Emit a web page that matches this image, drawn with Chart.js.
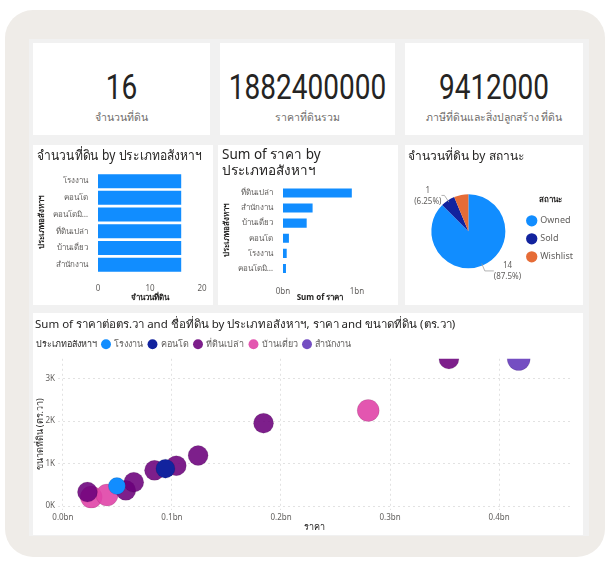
<!DOCTYPE html>
<html>
<head>
<meta charset="utf-8">
<script src="https://cdn.jsdelivr.net/npm/chart.js@4.4.1/dist/chart.umd.min.js"></script>
<style>
  body { margin: 0; width: 612px; height: 563px; background: #fff; position: relative; overflow: hidden;
         font-family: 'Noto Sans', 'DejaVu Sans', sans-serif; }
  .frame { position: absolute; left: 5px; top: 10px; width: 600px; height: 547px; background: #efece8; border-radius: 28px; }
  .panel { position: absolute; left: 29px; top: 39px; width: 560px; height: 497px; background: #f1f1f1; }
  .card { position: absolute; background: #fff; }
  .kpi { text-align: center; }
  .kpi .num { position: absolute; left: -40px; right: -40px; top: 25px; font-family: Roboto, sans-serif;
              font-size: 35px; color: #252423; line-height: 40px; transform: scaleX(0.8); }
  .kpi .lbl { position: absolute; left: 0; right: 0; top: 66px; font-size: 10.5px; color: #6f6d6b; }
  canvas { position: absolute; left: 0; top: 0; }
</style>
</head>
<body>
<div class="frame"></div>
<div class="panel"></div>

<div class="card kpi" style="left:33px;top:43px;width:177px;height:92px">
  <div class="num" id="kpi1"></div><div class="lbl">จำนวนที่ดิน</div>
</div>
<div class="card kpi" style="left:220px;top:43px;width:175px;height:92px">
  <div class="num" id="kpi2"></div><div class="lbl">ราคาที่ดินรวม</div>
</div>
<div class="card kpi" style="left:405px;top:43px;width:178px;height:92px">
  <div class="num" id="kpi3"></div><div class="lbl">ภาษีที่ดินและสิ่งปลูกสร้าง ที่ดิน</div>
</div>

<div class="card" style="left:33px;top:145px;width:180px;height:160px"><canvas id="bar1" width="180" height="160"></canvas></div>
<div class="card" style="left:218px;top:145px;width:180px;height:160px"><canvas id="bar2" width="180" height="160"></canvas></div>
<div class="card" style="left:405px;top:145px;width:178px;height:160px"><canvas id="pie" width="178" height="160"></canvas></div>
<div class="card" style="left:33px;top:313px;width:550px;height:222px"><canvas id="scatter" width="550" height="222"></canvas></div>

<script>
// ---- data ----
var landCount = 16
var totalPrice = 1882400000
var totalTax = 9412000

var typeLabels = ['โรงงาน', 'คอนโด', 'คอนโดมิเนียม', 'ที่ดินเปล่า', 'บ้านเดี่ยว', 'สำนักงาน']
var countByType = [16, 16, 16, 16, 16, 16]

var priceTypeLabels = ['ที่ดินเปล่า', 'สำนักงาน', 'บ้านเดี่ยว', 'คอนโด', 'โรงงาน', 'คอนโดมิเนียม']
var priceByType = [0.93e9, 0.40e9, 0.32e9, 0.08e9, 0.05e9, 0.04e9]

var statusLabels = ['Owned', 'Sold', 'Wishlist']
var statusCount = [14, 1, 1]

// scatter: ราคา (บาท) / ขนาดที่ดิน (ตร.วา) per type
var factoryPrice = [0.0495e9]
var factorySize = [470]
var condoPrice = [0.094e9]
var condoSize = [880]
var vacantPrice = [0.0225e9, 0.0577e9, 0.065e9, 0.084e9, 0.104e9, 0.124e9, 0.184e9, 0.354e9]
var vacantSize = [330, 370, 560, 840, 950, 1190, 1950, 3460]
var housePrice = [0.026e9, 0.0405e9, 0.28e9]
var houseSize = [210, 260, 2250]
var officePrice = [0.418e9]
var officeSize = [3460]

var priceTicks = [0, 1e8, 2e8, 3e8, 4e8]
var sizeTicks = [0, 1000, 2000, 3000]

var blue = '#118DFF', navy = '#12239E', orange = '#E66C37', purple = '#6B007B', pink = '#E044A7', violet = '#744EC2'

document.getElementById('kpi1').textContent = landCount
document.getElementById('kpi2').textContent = totalPrice
document.getElementById('kpi3').textContent = totalTax

Chart.defaults.font.family = "'Noto Sans', 'DejaVu Sans', sans-serif"
Chart.defaults.color = '#605E5C'
Chart.defaults.animation = false
Chart.defaults.responsive = false
Chart.defaults.plugins.tooltip.enabled = false

function shortLabel(s) {
  return s.length > 11 ? s.slice(0, 7) + '…' : s
}
function pts(xs, ys) {
  return xs.map(function (x, i) { return { x: x, y: ys[i] } })
}
function fixedTicks(values) {
  return function (s) { s.ticks = values.map(function (v) { return { value: v } }) }
}
var axisTitle = { size: 8, weight: 'bold' }

/*------ bar 1 : จำนวนที่ดิน ------*/
new Chart(document.getElementById('bar1'), {
  type: 'bar',
  data: {
    labels: typeLabels,
    datasets: [{ data: countByType, backgroundColor: blue, barPercentage: 0.84, categoryPercentage: 1 }]
  },
  options: {
    indexAxis: 'y',
    layout: { padding: { left: 4, right: 11, top: 3, bottom: 2 } },
    plugins: {
      legend: { display: false },
      title: { display: true, text: 'จำนวนที่ดิน by ประเภทอสังหาฯ', align: 'start', color: '#252423',
               font: { size: 14, weight: 'normal' }, padding: { top: 0, bottom: 8 } }
    },
    scales: {
      x: { min: 0, max: 20, ticks: { stepSize: 10, font: { size: 8 } }, grid: { display: false }, border: { display: false },
           title: { display: true, text: 'จำนวนที่ดิน', font: axisTitle, color: '#252423', padding: 0 },
           afterFit: function (s) { s.height = 30 } },
      y: { ticks: { font: { size: 8 }, padding: 2, callback: function (v) { return shortLabel(this.getLabelForValue(v)) } },
           grid: { display: false }, border: { display: false },
           title: { display: true, text: 'ประเภทอสังหาฯ', font: axisTitle, color: '#252423', padding: 0 },
           afterFit: function (s) { s.width = 61 } }
    }
  }
})

/*------ bar 2 : Sum of ราคา ------*/
new Chart(document.getElementById('bar2'), {
  type: 'bar',
  data: {
    labels: priceTypeLabels,
    datasets: [{ data: priceByType, backgroundColor: blue, barPercentage: 0.6, categoryPercentage: 1 }]
  },
  options: {
    indexAxis: 'y',
    layout: { padding: { left: 4, right: 41, top: 2, bottom: 2 } },
    plugins: {
      legend: { display: false },
      title: { display: true, text: ['Sum of ราคา by', 'ประเภทอสังหาฯ'], align: 'start', color: '#252423',
               font: { size: 13.5, weight: 'normal' }, padding: { top: 0, bottom: 6 } }
    },
    scales: {
      x: { min: 0, max: 1e9, ticks: { stepSize: 1e9, font: { size: 8 }, callback: function (v) { return v / 1e9 + 'bn' } },
           grid: { display: false }, border: { display: false },
           title: { display: true, text: 'Sum of ราคา', font: axisTitle, color: '#252423', padding: 0 },
           afterFit: function (s) { s.height = 27 } },
      y: { ticks: { font: { size: 8 }, padding: 2, callback: function (v) { return shortLabel(this.getLabelForValue(v)) } },
           grid: { display: false }, border: { display: false },
           title: { display: true, text: 'ประเภทอสังหาฯ', font: axisTitle, color: '#252423', padding: 0 },
           afterFit: function (s) { s.width = 61 } }
    }
  }
})

/*------ pie : สถานะ ------*/
var pieLabels = {
  id: 'pieLabels',
  afterLayout: function (chart) {
    // pie sits a little right of centre, legend a little lower, as in Power BI
    chart.chartArea.left += 10
    chart.legend.top += 11
    chart.legend.bottom += 11
  },
  afterDatasetsDraw: function (chart) {
    var ctx = chart.ctx
    var meta = chart.getDatasetMeta(0)
    var vals = chart.data.datasets[0].data
    var total = vals.reduce(function (a, b) { return a + b }, 0)
    ;[0, 1].forEach(function (i) {
      var p = meta.data[i].getProps(['x', 'y', 'startAngle', 'endAngle', 'outerRadius'])
      var a = (p.startAngle + p.endAngle) / 2
      var c = Math.cos(a), s = Math.sin(a)
      var x1 = p.x + c * (p.outerRadius - 2), y1 = p.y + s * (p.outerRadius - 2)
      var x2 = p.x + c * (p.outerRadius + 6), y2 = p.y + s * (p.outerRadius + 6)
      var dir = c >= 0 ? 1 : -1
      var x3 = x2 + dir * (dir > 0 ? 9 : 3)
      ctx.save()
      ctx.strokeStyle = '#a0a0a0'
      ctx.lineWidth = 0.8
      ctx.beginPath(); ctx.moveTo(x1, y1); ctx.lineTo(x2, y2); ctx.lineTo(x3, y2); ctx.stroke()
      ctx.font = "8px 'Noto Sans', 'DejaVu Sans', sans-serif"
      ctx.fillStyle = '#605E5C'
      ctx.textBaseline = 'middle'
      ctx.textAlign = 'center'
      var l1 = String(vals[i]), l2 = '(' + parseFloat((vals[i] / total * 100).toFixed(2)) + '%)'
      var w = Math.max(ctx.measureText(l1).width, ctx.measureText(l2).width)
      var cx = x3 + dir * (w / 2)
      ctx.fillText(l1, cx, y2 - 5)
      ctx.fillText(l2, cx, y2 + 6)
      ctx.restore()
    })
  }
}
new Chart(document.getElementById('pie'), {
  type: 'pie',
  data: {
    labels: statusLabels,
    datasets: [{ data: statusCount, backgroundColor: [blue, navy, orange], borderWidth: 0, radius: 37 }]
  },
  options: {
    layout: { padding: { left: 3, right: 0, top: 4, bottom: 10 } },
    plugins: {
      title: { display: true, text: 'จำนวนที่ดิน by สถานะ', align: 'start', color: '#252423',
               font: { size: 12, weight: 'normal' }, padding: { top: 0, bottom: 4 } },
      legend: {
        position: 'right',
        title: { display: true, text: 'สถานะ', color: '#252423', font: { size: 8, weight: 'bold' }, padding: { top: 0, bottom: 2 } },
        labels: { usePointStyle: true, pointStyle: 'circle', boxWidth: 8, boxHeight: 8, padding: 9,
                  color: '#605E5C', font: { size: 9 } }
      }
    }
  },
  plugins: [pieLabels]
})

/*------ scatter ------*/
// legend header "ประเภทอสังหาฯ" has no marker, so pull the legend row left by one marker width
var legendShift = {
  id: 'legendShift',
  afterLayout: function (chart) {
    chart.legend.left -= 17
    chart.legend.right -= 17
  }
}
new Chart(document.getElementById('scatter'), {
  type: 'bubble',
  data: {
    datasets: [
      { label: 'โรงงาน', data: pts(factoryPrice, factorySize), backgroundColor: blue, radius: 8.5 },
      { label: 'คอนโด', data: pts(condoPrice, condoSize), backgroundColor: navy, radius: 9.5 },
      { label: 'ที่ดินเปล่า', data: pts(vacantPrice, vacantSize), backgroundColor: 'rgba(107,0,123,0.88)', radius: 10 },
      { label: 'บ้านเดี่ยว', data: pts(housePrice, houseSize), backgroundColor: 'rgba(224,68,167,0.9)', radius: 11 },
      { label: 'สำนักงาน', data: pts(officePrice, officeSize), backgroundColor: violet, radius: 11.5 }
    ]
  },
  options: {
    layout: { padding: { left: 2, right: 3, top: 5, bottom: 2 } },
    plugins: {
      title: { display: true, text: 'Sum of ราคาต่อตร.วา and ชื่อที่ดิน by ประเภทอสังหาฯ, ราคา and ขนาดที่ดิน (ตร.วา)',
               align: 'start', color: '#252423', font: { size: 11.5, weight: 'normal' }, padding: { top: 0, bottom: 2 } },
      legend: {
        align: 'start',
        labels: {
          usePointStyle: true, pointStyle: 'circle', boxWidth: 7, boxHeight: 7, padding: 6, font: { size: 9 },
          generateLabels: function (chart) {
            var items = Chart.defaults.plugins.legend.labels.generateLabels(chart)
            items.forEach(function (it) { it.lineWidth = 0 })
            items.unshift({ text: 'ประเภทอสังหาฯ', fillStyle: 'rgba(0,0,0,0)', strokeStyle: 'rgba(0,0,0,0)',
                            lineWidth: 0, fontColor: '#252423', hidden: false, datasetIndex: -1 })
            return items
          }
        }
      }
    },
    scales: {
      x: { type: 'linear', min: -0.0045e9, max: 0.4655e9,
           afterBuildTicks: fixedTicks(priceTicks),
           ticks: { font: { size: 8 }, maxRotation: 0, callback: function (v) { return (v / 1e9).toFixed(1) + 'bn' } },
           grid: { color: '#e2e2e2', drawTicks: false }, border: { display: false, dash: [2, 3] },
           title: { display: true, text: 'ราคา', font: { size: 9 }, color: '#252423', padding: 0 },
           afterFit: function (s) { s.height = 23 } },
      y: { min: -93, max: 3465,
           afterBuildTicks: fixedTicks(sizeTicks),
           ticks: { font: { size: 8 }, callback: function (v) { return v / 1000 + 'K' } },
           grid: { color: '#e2e2e2', drawTicks: false }, border: { display: false, dash: [2, 3] },
           title: { display: true, text: 'ขนาดที่ดิน (ตร.วา)', font: { size: 9 }, color: '#252423', padding: 0 },
           afterFit: function (s) { s.width = 23 } }
    }
  },
  plugins: [legendShift]
})
</script>
</body>
</html>
